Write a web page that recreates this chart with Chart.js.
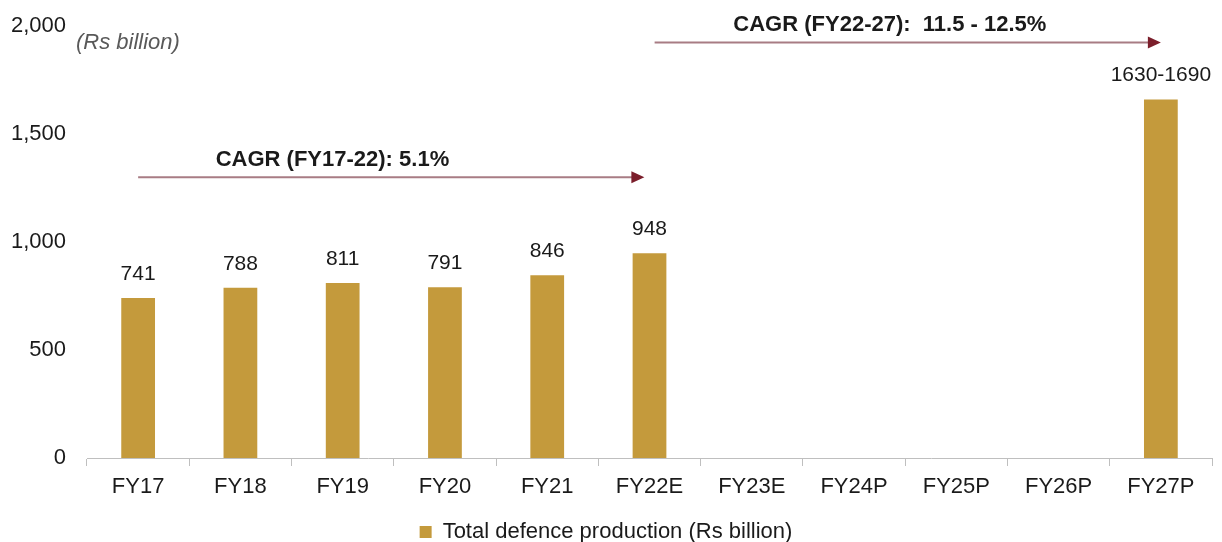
<!DOCTYPE html>
<html>
<head>
<meta charset="utf-8">
<script src="https://cdn.jsdelivr.net/npm/chart.js@4/dist/chart.umd.min.js"></script>
<style>
  html, body { margin: 0; padding: 0; background: #fff; }
  #wrap { width: 1222px; height: 542px; }
</style>
</head>
<body>
<div id="wrap"><canvas id="c"></canvas></div>
<script>
const years = ['FY17', 'FY18', 'FY19', 'FY20', 'FY21', 'FY22E', 'FY23E', 'FY24P', 'FY25P', 'FY26P', 'FY27P'];
const production = [741, 788, 811, 791, 846, 948, null, null, null, null, 1660];
const valueLabels = ['741', '788', '811', '791', '846', '948', '', '', '', '', '1630-1690'];
const yTicks = [0, 500, 1000, 1500, 2000];

// CAGR arrows: from / to / text centre as category index, at value
const cagrNotes = [
  { text: 'CAGR (FY17-22): 5.1%', from: 0, to: 4.95, textAt: 1.9, value: 1300 },
  { text: 'CAGR (FY22-27):  11.5 - 12.5%', from: 5.05, to: 10, textAt: 7.35, value: 1925 }
];

const barColor = '#C49A3C';
const txt = '#1a1a1a';
const font = 'Liberation Sans, Arial, sans-serif';

// etiquettes, flèches et unité
const extras = {
  id: 'extras',
  afterDatasetsDraw(chart) {
    const ctx = chart.ctx;
    const x = chart.scales.x, y = chart.scales.y;
    const meta = chart.getDatasetMeta(0);
    ctx.save();
    ctx.font = '21px ' + font;
    ctx.fillStyle = txt;
    ctx.textAlign = 'center';
    ctx.textBaseline = 'middle';
    meta.data.forEach((bar, i) => {
      if (production[i] == null) return;
      ctx.fillText(valueLabels[i], bar.x, bar.y - 24);
    });

    cagrNotes.forEach(n => {
      const x0 = x.getPixelForValue(n.from);
      const x1 = x.getPixelForValue(n.to);
      const yy = y.getPixelForValue(n.value);
      ctx.strokeStyle = '#A87C84';
      ctx.lineWidth = 2;
      ctx.beginPath();
      ctx.moveTo(x0, yy);
      ctx.lineTo(x1 - 12, yy);
      ctx.stroke();
      ctx.fillStyle = '#7B1E2B';
      ctx.beginPath();
      ctx.moveTo(x1, yy);
      ctx.lineTo(x1 - 13, yy - 6);
      ctx.lineTo(x1 - 13, yy + 6);
      ctx.closePath();
      ctx.fill();
      ctx.fillStyle = txt;
      ctx.font = 'bold 22px ' + font;
      ctx.textBaseline = 'middle';
      ctx.fillText(n.text, x.getPixelForValue(n.textAt), yy - 17);
    });

    ctx.font = 'italic 22px ' + font;
    ctx.fillStyle = '#595959';
    ctx.textAlign = 'left';
    ctx.textBaseline = 'middle';
    ctx.fillText('(Rs billion)', 76, y.getPixelForValue(2000) + 17);
    ctx.restore();
  }
};

new Chart(document.getElementById('c').getContext('2d'), {
  type: 'bar',
  data: {
    labels: years,
    datasets: [{
      label: 'Total defence production (Rs billion)',
      data: production,
      backgroundColor: barColor,
      barPercentage: 0.5,
      categoryPercentage: 0.66
    }]
  },
  options: {
    responsive: true,
    maintainAspectRatio: false,
    animation: false,
    layout: { padding: { top: -4, right: 10, left: 0, bottom: -11 } },
    plugins: {
      legend: {
        position: 'bottom',
        labels: {
          color: txt,
          font: { family: font, size: 22, lineHeight: 1 },
          boxWidth: 12,
          boxHeight: 12,
          padding: 1
        }
      },
      tooltip: { enabled: false }
    },
    scales: {
      x: {
        afterFit: s => { s.height = 62; },
        grid: {
          offset: true,
          drawOnChartArea: false,
          tickLength: 8,
          color: '#BFBFBF'
        },
        border: { color: '#BFBFBF', width: 1 },
        ticks: { color: txt, font: { family: font, size: 22 }, padding: 8 }
      },
      y: {
        min: 0,
        max: 2000,
        afterBuildTicks: s => { s.ticks = yTicks.map(v => ({ value: v })); },
        afterFit: s => { s.width = 87; },
        grid: { display: false },
        border: { display: false },
        ticks: {
          color: txt,
          font: { family: font, size: 22 },
          padding: 13,
          callback: v => v.toLocaleString('en-US')
        }
      }
    }
  },
  plugins: [extras]
});
</script>
</body>
</html>
